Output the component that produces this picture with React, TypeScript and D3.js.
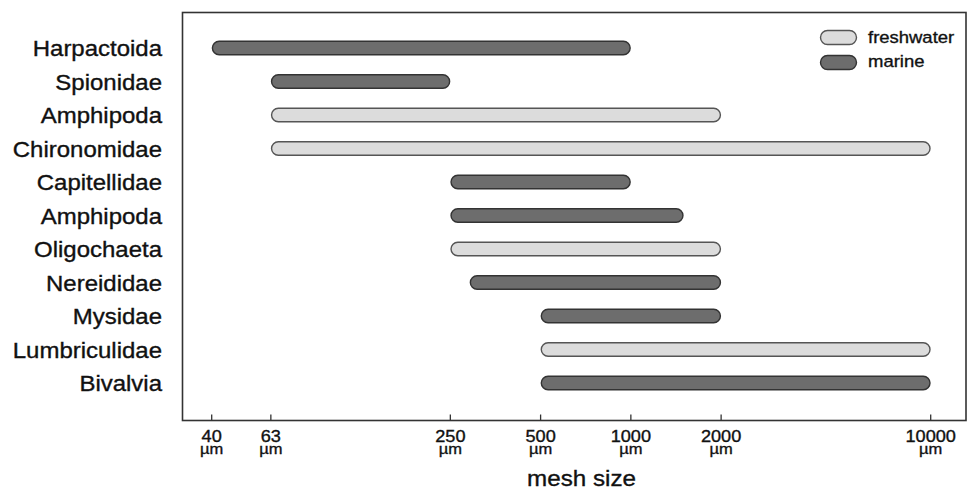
import React from "react";
import * as d3 from "d3";

const taxa = [
  "Harpactoida",
  "Spionidae",
  "Amphipoda",
  "Chironomidae",
  "Capitellidae",
  "Amphipoda",
  "Oligochaeta",
  "Nereididae",
  "Mysidae",
  "Lumbriculidae",
  "Bivalvia",
];
const habitat = [
  "marine",
  "marine",
  "freshwater",
  "freshwater",
  "marine",
  "marine",
  "freshwater",
  "marine",
  "marine",
  "freshwater",
  "marine",
];
const minMesh = [40, 63, 63, 63, 250, 250, 250, 290, 500, 500, 500];
const maxMesh = [1000, 250, 2000, 10000, 1000, 1500, 2000, 2000, 2000, 10000, 10000];
const tickValues = [40, 63, 250, 500, 1000, 2000, 10000];
const tickUnit = "\u00b5m";
const legendItems = ["freshwater", "marine"];
const xTitle = "mesh size";

const W = 968;
const H = 490;
const frame = { left: 182.5, top: 12.5, right: 966, bottom: 420.5 };
const SX = 1.1;
const FONT = "'Liberation Sans', Arial, Helvetica, sans-serif";

const fillFor = (h: string) => (h === "marine" ? "#6d6d6d" : "#dcdcdc");
const strokeFor = (h: string) => (h === "marine" ? "#333" : "#555");

function SText({ x, y, size, anchor, children, fill = "#111" }: any) {
  return (
    <text
      transform={`translate(${x},${y}) scale(${SX},1)`}
      textAnchor={anchor}
      fontSize={size}
      fontFamily={FONT}
      fill={fill}
      stroke={fill}
      strokeWidth={0.35}
    >
      {children}
    </text>
  );
}

export default function App() {
  const x = d3.scaleLog().domain([40, 10000]).range([211.7, 930.7]);
  const y = d3
    .scalePoint<number>()
    .domain(taxa.map((_, i) => i))
    .range([48, 383]);
  const barH = 13.5;

  return (
    <svg
      width={W}
      height={H}
      style={{ position: "absolute", left: 0, top: 0, background: "#fff" }}
    >
      <rect x={0} y={0} width={W} height={H} fill="#fff" />
      <rect
        x={frame.left}
        y={frame.top}
        width={frame.right - frame.left}
        height={frame.bottom - frame.top}
        fill="none"
        stroke="#333"
        strokeWidth={1.6}
      />
      {taxa.map((t, i) => (
        <SText key={"l" + i} x={162} y={(y(i) as number) + 8} size={21.8} anchor="end">
          {t}
        </SText>
      ))}
      {taxa.map((t, i) => {
        const x0 = x(minMesh[i]);
        const x1 = x(maxMesh[i]);
        const cy = y(i) as number;
        return (
          <rect
            key={"b" + i}
            x={x0 + 0.7}
            y={cy - barH / 2}
            width={x1 - x0 - 1.4}
            height={barH}
            rx={barH / 2}
            fill={fillFor(habitat[i])}
            stroke={strokeFor(habitat[i])}
            strokeWidth={1.4}
          />
        );
      })}
      {tickValues.map((v) => (
        <g key={"t" + v}>
          <line
            x1={x(v)}
            x2={x(v)}
            y1={frame.bottom - 6}
            y2={frame.bottom}
            stroke="#333"
            strokeWidth={1.3}
          />
          <SText x={x(v)} y={441.5} size={16.5} anchor="middle">
            <tspan x={0} dy={0}>{String(v)}</tspan>
            <tspan x={0} dy={12} fontSize={15}>{tickUnit}</tspan>
          </SText>
        </g>
      ))}
      <SText x={581.5} y={486} size={22} anchor="middle">
        {xTitle}
      </SText>
      {legendItems.map((h, i) => (
        <g key={"lg" + h}>
          <rect
            x={820.5}
            y={30.5 + i * 25}
            width={36}
            height={14}
            rx={7}
            fill={fillFor(h)}
            stroke={strokeFor(h)}
            strokeWidth={1.4}
          />
          <SText x={868} y={42.5 + i * 24} size={16.8} anchor="start">
            {h}
          </SText>
        </g>
      ))}
    </svg>
  );
}
